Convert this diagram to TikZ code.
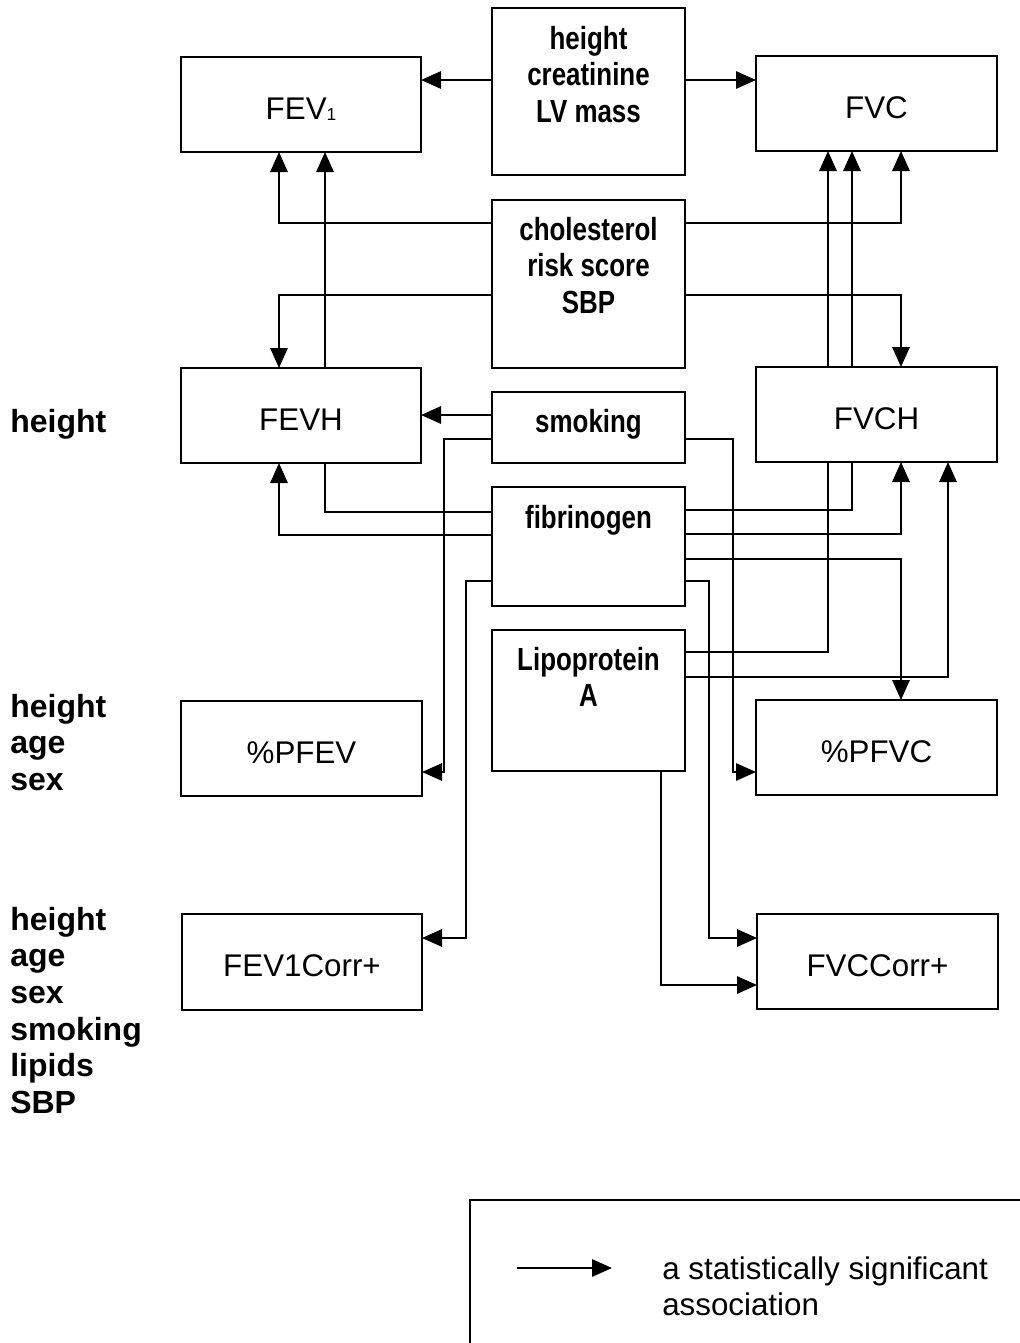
\documentclass[tikz,border=0pt]{standalone}
\usepackage{fontspec}
\setmainfont{Liberation Sans}
\newfontfamily\nbfam[FakeStretch=0.81]{Liberation Sans}
\usetikzlibrary{arrows.meta,calc,backgrounds}
\newlength\pxu
\setlength\pxu{0.75pt}
\newcommand\cbox[4]{\parbox[c][#2\pxu][t]{#1\pxu}{\centering\rule{0pt}{#3\pxu}#4\par}}
\newcommand\rbox[3]{\parbox[c][#2\pxu][c]{#1\pxu}{\vspace*{8\pxu}\centering #3\par}}
\begin{document}
\begin{tikzpicture}[x=0.75pt,y=-0.75pt,
  basebox/.style={draw,line width=1.5pt,fill=white,inner sep=0pt,outer sep=0pt,anchor=north west},
  cbx/.style={basebox,font=\nbfam\bfseries\fontsize{24pt}{27.4pt}\selectfont},
  rbx/.style={basebox,font=\fontsize{23.5pt}{28pt}\selectfont},
  lbl/.style={anchor=north west,inner sep=0pt,align=left,font=\bfseries\fontsize{24pt}{27.5pt}\selectfont},
  legtext/.style={anchor=north west,inner sep=0pt,align=left,font=\fontsize{23.5pt}{27.4pt}\selectfont},
  arr/.style={line width=1.5pt,-{Triangle[length=15pt,width=13pt]}},
  plain/.style={line width=1.5pt}]
\useasboundingbox (0,0) rectangle (1020,1343);

% centre column
\node[cbx] (top)  at (492,8)   {\cbox{193}{167}{41}{height\\creatinine\\LV mass}};
\node[cbx] (chol) at (492,200) {\cbox{193}{168}{40}{cholesterol\\risk score\\SBP}};
\node[cbx] (smok) at (492,392) {\cbox{193}{71}{40}{smoking}};
\node[cbx] (fib)  at (492,487) {\cbox{193}{119}{41}{fibrinogen}};
\node[cbx] (lpa)  at (492,630) {\cbox{193}{141}{40}{Lipoprotein\\A}};

% left column
\node[rbx] (fev)  at (181,57)  {\rbox{240}{95}{FEV\smash{\raisebox{-1pt}{\fontsize{13pt}{13pt}\selectfont 1}}}};
\node[rbx] (fevh) at (181,368) {\rbox{240}{95}{FEVH}};
\node[rbx] (pfev) at (181,701) {\rbox{241}{95}{\%PFEV}};
\node[rbx] (fevc) at (182,914) {\rbox{240}{96}{FEV1Corr+}};

% right column
\node[rbx] (fvc)  at (756,56)  {\rbox{241}{95}{FVC}};
\node[rbx] (fvch) at (756,367) {\rbox{241}{95}{FVCH}};
\node[rbx] (pfvc) at (756,700) {\rbox{241}{95}{\%PFVC}};
\node[rbx] (fvcc) at (757,914) {\rbox{241}{95}{FVCCorr+}};

% left labels
\node[lbl] (l1) at (10,405.3) {\rule{0pt}{20pt}height};
\node[lbl] (l2) at (10,690.3) {\rule{0pt}{20pt}height\\age\\sex};
\node[lbl] (l3) at (10,903.3) {\rule{0pt}{20pt}height\\age\\sex\\smoking\\lipids\\SBP};

\begin{scope}[on background layer]
% top box
\draw[arr] ($(top.north west)+(0,72)$) -- ($(fev.north east)+(0,23)$);
\draw[arr] ($(top.north east)+(0,72)$) -- ($(fvc.north west)+(0,24)$);
% cholesterol box
\draw[arr] ($(chol.north west)+(0,23)$) -| ($(fev.south west)+(98,0)$);
\draw[arr] ($(chol.north west)+(0,95)$) -| ($(fevh.north west)+(98,0)$);
\draw[arr] ($(chol.north east)+(0,23)$) -| ($(fvc.south west)+(145,0)$);
\draw[arr] ($(chol.north east)+(0,95)$) -| ($(fvch.north west)+(145,0)$);
% smoking
\draw[arr] ($(smok.north west)+(0,23)$) -- ($(fevh.north east)+(0,47)$);
\draw[arr] ($(smok.north west)+(0,47)$) -| ($(pfev.north east)+(22,71)$) -- ($(pfev.north east)+(0,71)$);
\draw[arr] ($(smok.north east)+(0,47)$) -| ($(pfvc.north west)+(-23,72)$) -- ($(pfvc.north west)+(0,72)$);
% fibrinogen
\draw[arr] ($(fib.north west)+(0,25)$) -| ($(fev.south west)+(144,0)$);
\draw[arr] ($(fib.north west)+(0,48)$) -| ($(fevh.south west)+(98,0)$);
\draw[arr] ($(fib.north west)+(0,94)$) -| ($(fevc.north east)+(44,24)$) -- ($(fevc.north east)+(0,24)$);
\draw[arr] ($(fib.north east)+(0,23)$) -| ($(fvc.south west)+(96,0)$);
\draw[arr] ($(fib.north east)+(0,47)$) -| ($(fvch.south west)+(145,0)$);
\draw[arr] ($(fib.north east)+(0,72)$) -| ($(pfvc.north west)+(145,0)$);
\draw[arr] ($(fib.north east)+(0,94)$) -| ($(fvcc.north west)+(-48,24)$) -- ($(fvcc.north west)+(0,24)$);
% lipoprotein A
\draw[arr] ($(lpa.north east)+(0,22)$) -| ($(fvc.south west)+(72,0)$);
\draw[arr] ($(lpa.north east)+(0,47)$) -| ($(fvch.south west)+(192,0)$);
\draw[arr] ($(lpa.south west)+(169,0)$) |- ($(fvcc.north west)+(0,71)$);
\end{scope}

% legend
\draw[plain] (1025,1200) -- (470,1200) -- (470,1350);
\coordinate (la) at (517,1268);
\coordinate (lb) at (612,1268);
\draw[arr] (la) -- (lb);
\node[legtext] (legt) at (662,1252.3) {\rule{0pt}{20pt}a statistically significant\\association};
\end{tikzpicture}
\end{document}
